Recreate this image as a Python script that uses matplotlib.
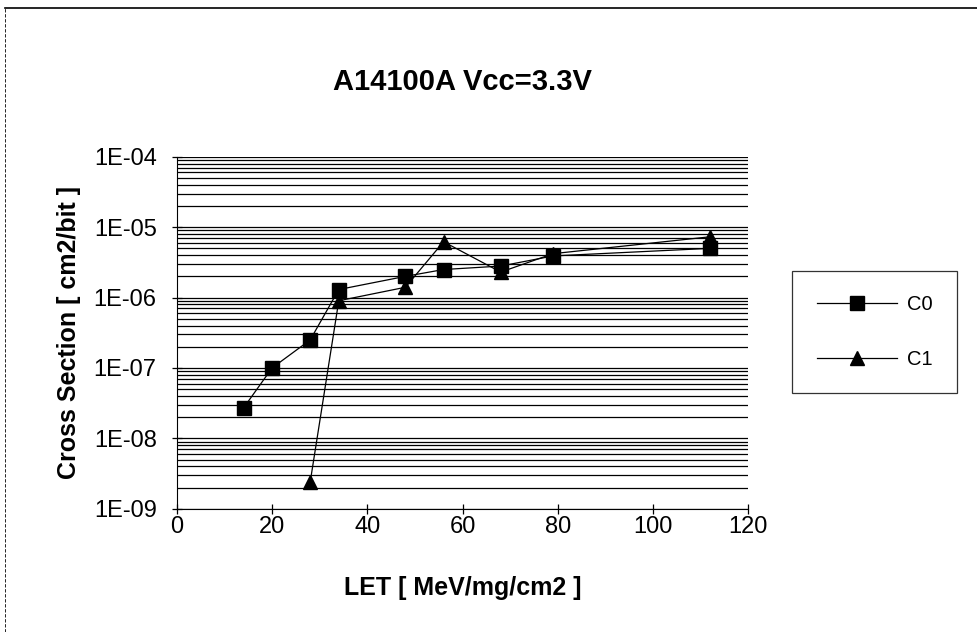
import matplotlib
matplotlib.use("Agg")
import matplotlib.pyplot as plt
from matplotlib.ticker import LogLocator, FixedLocator
from matplotlib.lines import Line2D

plt.rcParams['font.family'] = ['Liberation Sans', 'DejaVu Sans']

# data
let_c0 = [14, 20, 28, 34, 48, 56, 68, 79, 112]
xs_c0 = [2.7e-8, 1.0e-7, 2.5e-7, 1.3e-6, 2.0e-6, 2.5e-6, 2.8e-6, 3.9e-6, 5.0e-6]
let_c1 = [28, 34, 48, 56, 68, 79, 112]
xs_c1 = [2.4e-9, 9.0e-7, 1.4e-6, 6.2e-6, 2.3e-6, 4.2e-6, 7.3e-6]

x_ticks = [0, 20, 40, 60, 80, 100, 120]
y_ticks = [1e-9, 1e-8, 1e-7, 1e-6, 1e-5, 1e-4]
y_labels = ['1E-09', '1E-08', '1E-07', '1E-06', '1E-05', '1E-04']

fig = plt.figure(figsize=(9.77, 6.32), dpi=100)
ax = fig.add_axes([0.181, 0.195, 0.585, 0.557])

ax.set_yscale('log')
ax.set_xlim(0, 120)
ax.set_ylim(1e-9, 1e-4)

# horizontal gridlines at every 1..9 of each decade
ax.yaxis.set_major_locator(FixedLocator(y_ticks))
ax.yaxis.set_minor_locator(LogLocator(base=10, subs=range(2, 10)))
ax.yaxis.set_minor_formatter(plt.NullFormatter())
ax.grid(True, which='both', axis='y', color='black', lw=0.9)
ax.set_axisbelow(True)

ax.plot(let_c0, xs_c0, color='black', lw=0.9, marker='s', ms=9.5, label='C0')
ax.plot(let_c1, xs_c1, color='black', lw=0.9, marker='^', ms=10, label='C1')

ax.set_xticks(x_ticks)
ax.set_yticks(y_ticks)
ax.set_yticklabels(y_labels)
ax.tick_params(axis='both', which='major', direction='inout', length=7, width=0.9,
               labelsize=17)
ax.tick_params(axis='x', which='major', pad=2)
ax.tick_params(axis='y', which='major', pad=11)
ax.tick_params(axis='y', which='minor', length=0)
ax.spines['top'].set_visible(False)
ax.spines['right'].set_visible(False)

ax.set_title('A14100A Vcc=3.3V', fontsize=21, fontweight='bold', pad=48)
ax.set_xlabel('LET [ MeV/mg/cm2 ]', fontsize=18, fontweight='bold', labelpad=27)
ax.set_ylabel('Cross Section [ cm2/bit ]', fontsize=18, fontweight='bold', labelpad=9)

leg = fig.legend(handles=ax.get_lines(), loc='center left',
                 bbox_to_anchor=(0.811, 0.475), borderaxespad=0, fontsize=14.5,
                 frameon=True, fancybox=False, edgecolor='black',
                 handlelength=4.0, handletextpad=0.5, borderpad=1.2,
                 labelspacing=1.8)
leg.get_frame().set_linewidth(0.9)

# scanned page frame on the top and left
fig.add_artist(Line2D([0.005, 1.0], [0.987, 0.987], color='black', lw=1.2))
fig.add_artist(Line2D([0.005, 0.005], [0.0, 0.987], color='black', lw=0.6, ls=(0, (4, 2))))

fig.savefig('out.png', dpi=100)
